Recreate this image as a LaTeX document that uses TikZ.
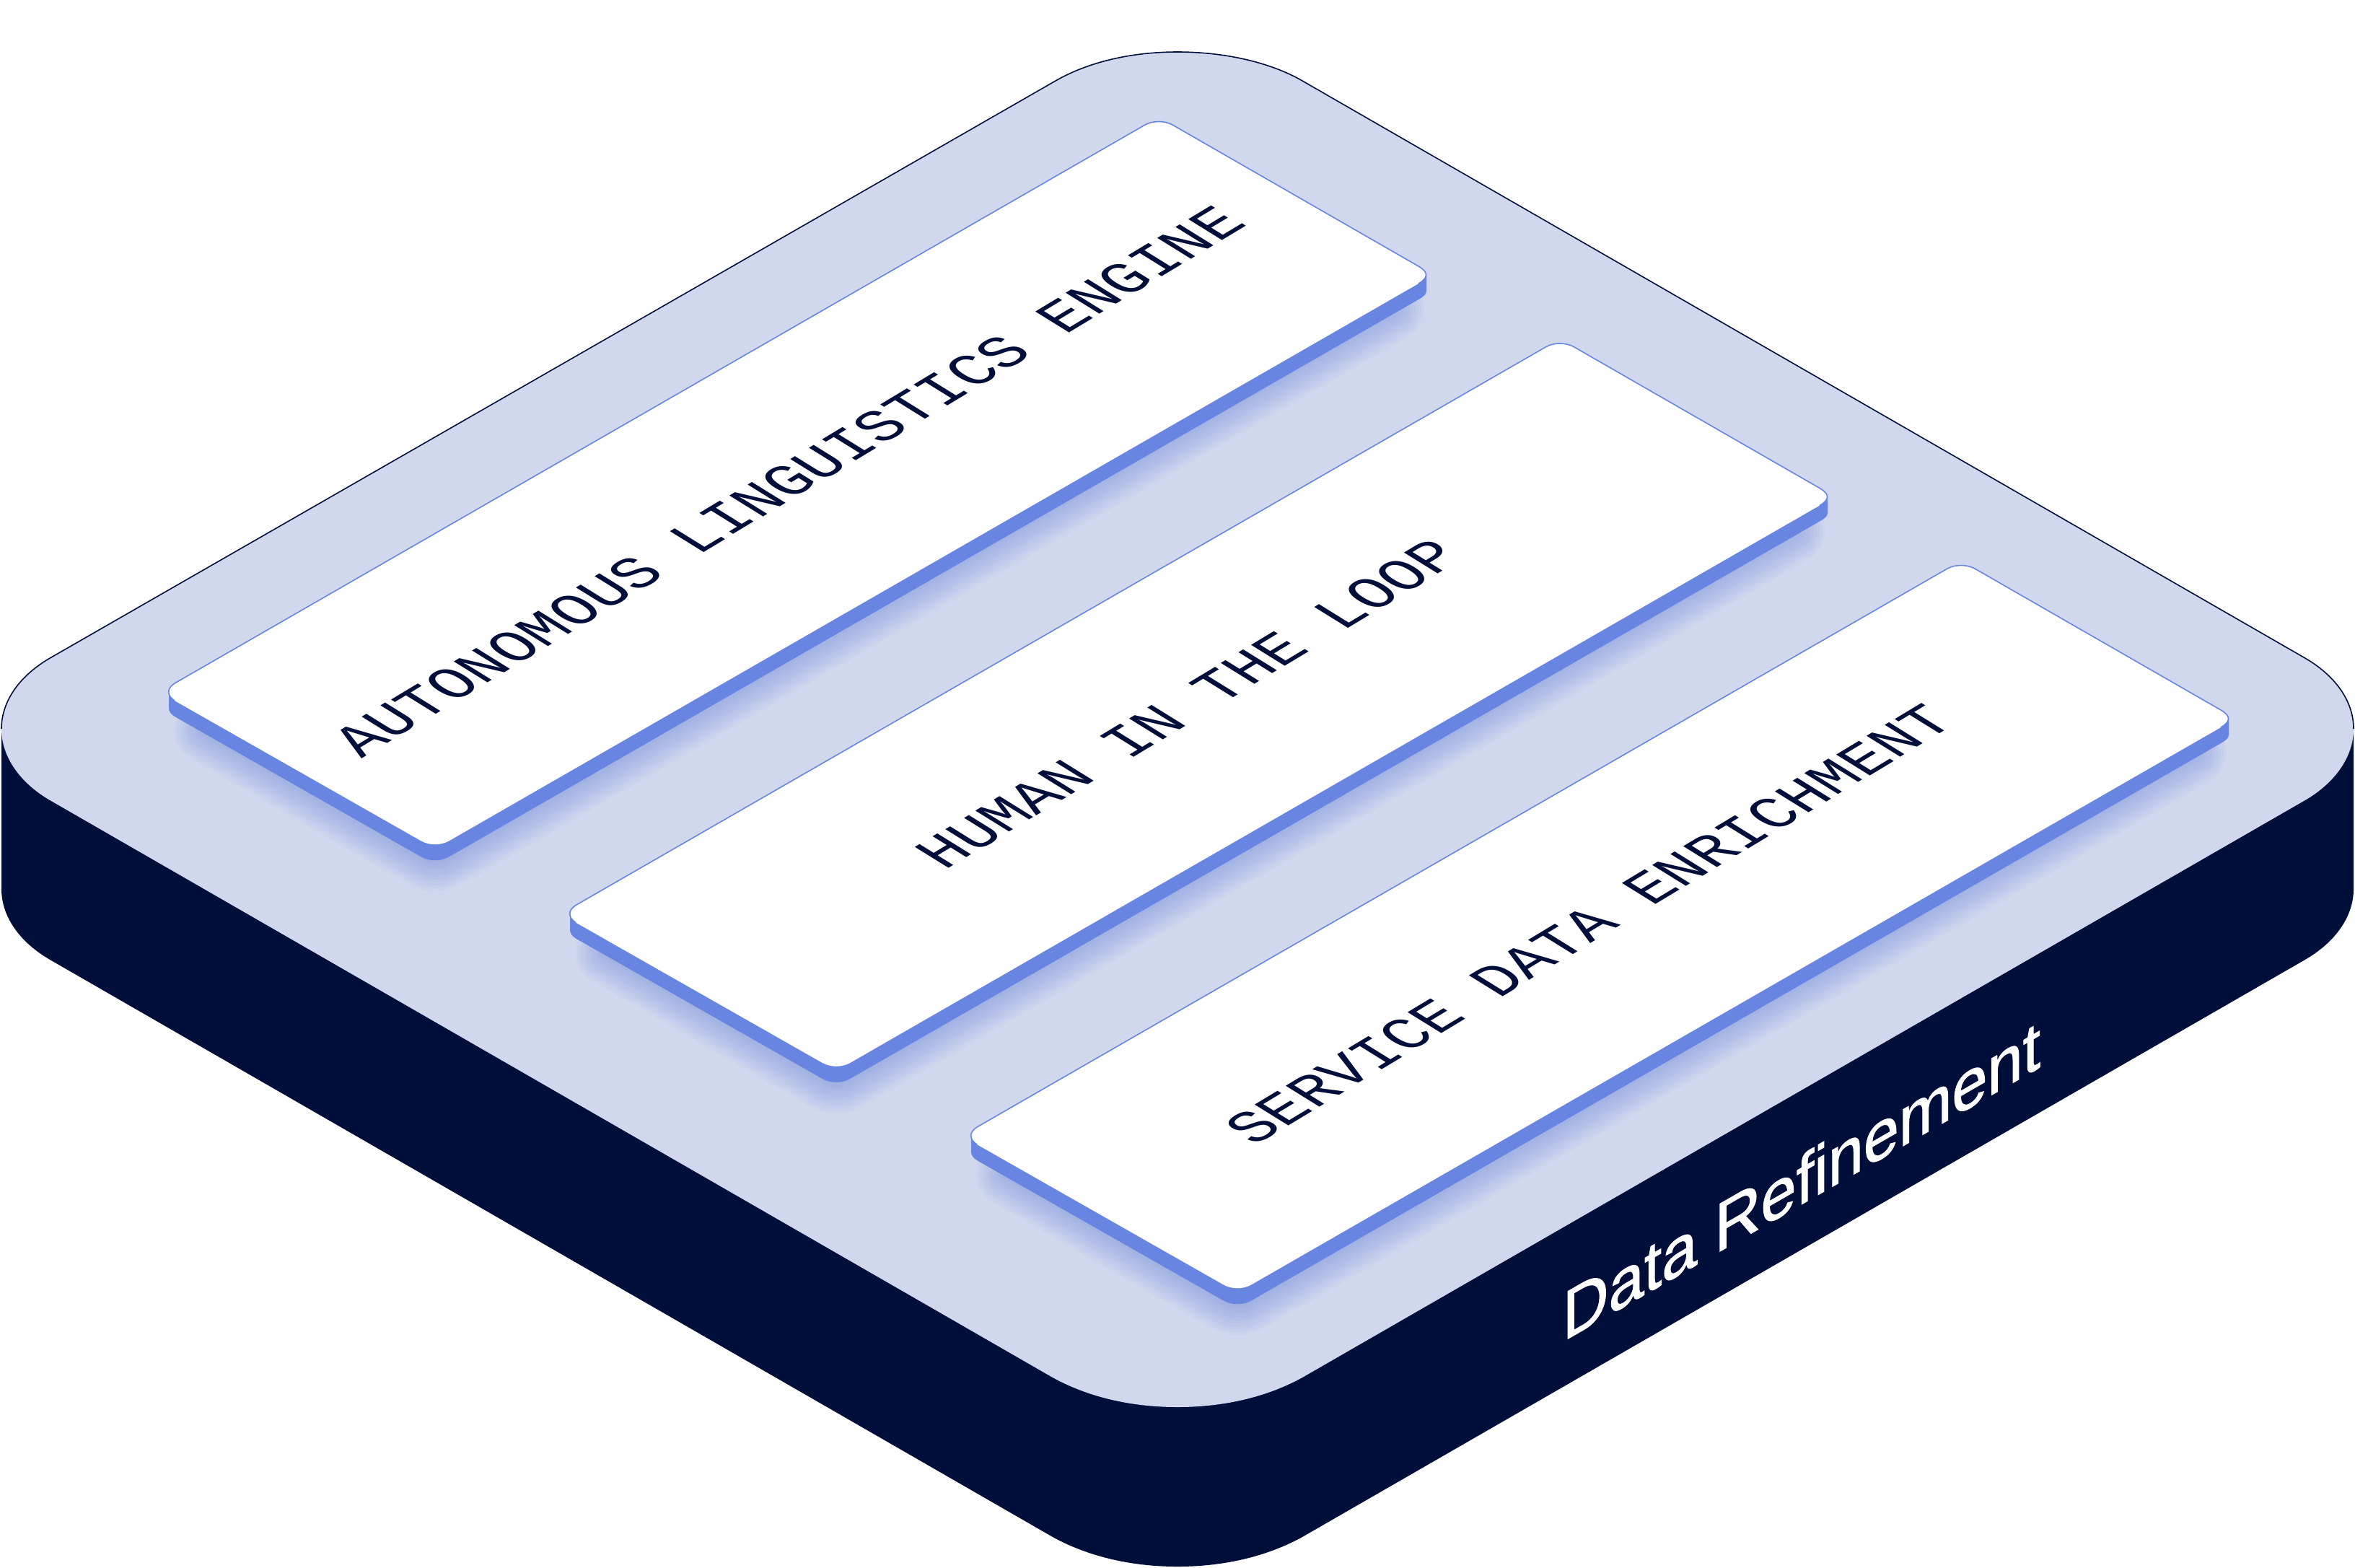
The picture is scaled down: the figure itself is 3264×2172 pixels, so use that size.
\documentclass[tikz,border=0pt]{standalone}
\usepackage{fontspec}
\newfontfamily\monofam{Liberation Mono}
\newfontfamily\sansfam[FakeBold=1.2]{Liberation Sans}
\definecolor{navy}{HTML}{000E3A}
\definecolor{plate}{HTML}{D1D8EE}
\definecolor{cardblue}{HTML}{6985E2}
\tikzset{
  platetop/.style={fill=plate},
  platebody/.style={fill=navy},
  plateedge/.style={draw=navy,line width=0.016cm},
  cardside/.style={fill=cardblue},
  cardtop/.style={fill=white},
  cardedge/.style={draw=cardblue,line width=0.016cm},
  cardtext/.style={inner sep=0pt,anchor=base,text=navy,transform shape,font=\monofam\fontsize{20}{24}\selectfont,
    cm={1.172*0.857,1.172*0.516,-1.186*0.85,1.186*0.527,(0,0)}},
  sidetext/.style={inner sep=0pt,anchor=base west,text=white,transform shape,font=\sansfam\fontsize{20}{24}\selectfont,
    cm={1.255,0.722,0,1.36,(0,0)}}
}
\newcommand{\drawcard}[2]{%
\begin{scope}[shift={(#1,#2)}]
  \foreach \w in {8,16,...,88}{
    \draw[draw=cardblue,opacity=0.052,line width=\w*0.01cm,line join=round,line cap=round]
      (285,1012) -- (590,1188) .. controls (597,1192) and (609,1192) .. (616,1188) -- (1930,428);
  }
  \path[cardside] (234,959) -- (234,981) .. controls (234,986) and (237,990) .. (242,993)
    -- (583,1187) .. controls (595,1194) and (611,1194) .. (623,1187)
    -- (1966,415) .. controls (1973,411) and (1977,408) .. (1977,403) -- (1977,381) -- cycle;
  \path[cardtop] (242,947) -- (1587,173) .. controls (1598,167) and (1614,167) .. (1625,173)
    -- (1966,369) .. controls (1980,377) and (1980,385) .. (1966,393)
    -- (623,1165) .. controls (611,1172) and (595,1172) .. (583,1165)
    -- (242,971) .. controls (231,964) and (231,954) .. (242,947) -- cycle;
  \path[cardedge] (242,971) .. controls (231,964) and (231,954) .. (242,947)
    -- (1587,173) .. controls (1598,167) and (1614,167) .. (1625,173)
    -- (1966,369) .. controls (1980,377) and (1980,385) .. (1966,393);
\end{scope}}
\begin{document}
\begin{tikzpicture}[x=0.01cm,y=-0.01cm]
\useasboundingbox (0,0) rectangle (3264,2172);
\path[platebody] (2,1010) -- (2,1232) .. controls (2,1270) and (27,1306) .. (71,1331)
  -- (1459,2130) .. controls (1510,2158) and (1570,2171) .. (1632,2171)
  .. controls (1694,2171) and (1754,2158) .. (1805,2130)
  -- (3193,1331) .. controls (3237,1306) and (3262,1270) .. (3262,1232) -- (3262,1010) -- cycle;
\path[platetop] (71,911) -- (1463,112) .. controls (1510,85) and (1570,72) .. (1632,72)
  .. controls (1694,72) and (1758,85) .. (1805,112)
  -- (3193,911) .. controls (3237,936) and (3262,972) .. (3262,1010)
  .. controls (3262,1048) and (3237,1085) .. (3193,1110)
  -- (1805,1909) .. controls (1754,1937) and (1694,1950) .. (1632,1950)
  .. controls (1570,1950) and (1510,1937) .. (1459,1909)
  -- (71,1110) .. controls (27,1085) and (2,1048) .. (2,1010)
  .. controls (2,972) and (27,936) .. (71,911) -- cycle;
\path[plateedge] (2,1010) .. controls (2,972) and (27,936) .. (71,911) -- (1463,112)
  .. controls (1510,85) and (1570,72) .. (1632,72)
  .. controls (1694,72) and (1758,85) .. (1805,112)
  -- (3193,911) .. controls (3237,936) and (3262,972) .. (3262,1010);
\drawcard{0}{0}
\drawcard{556}{307.5}
\drawcard{1112}{615}
\node[cardtext] (engine) at (1116,681) {AUTONOMOUS LINGUISTICS ENGINE};
\node[cardtext] (human) at (1670,990) {HUMAN IN THE LOOP};
\node[cardtext] (service) at (2226,1295) {SERVICE DATA ENRICHMENT};
\node[sidetext] (refine) at (2165,1860) {Data Refinement};
\end{tikzpicture}
\end{document}
